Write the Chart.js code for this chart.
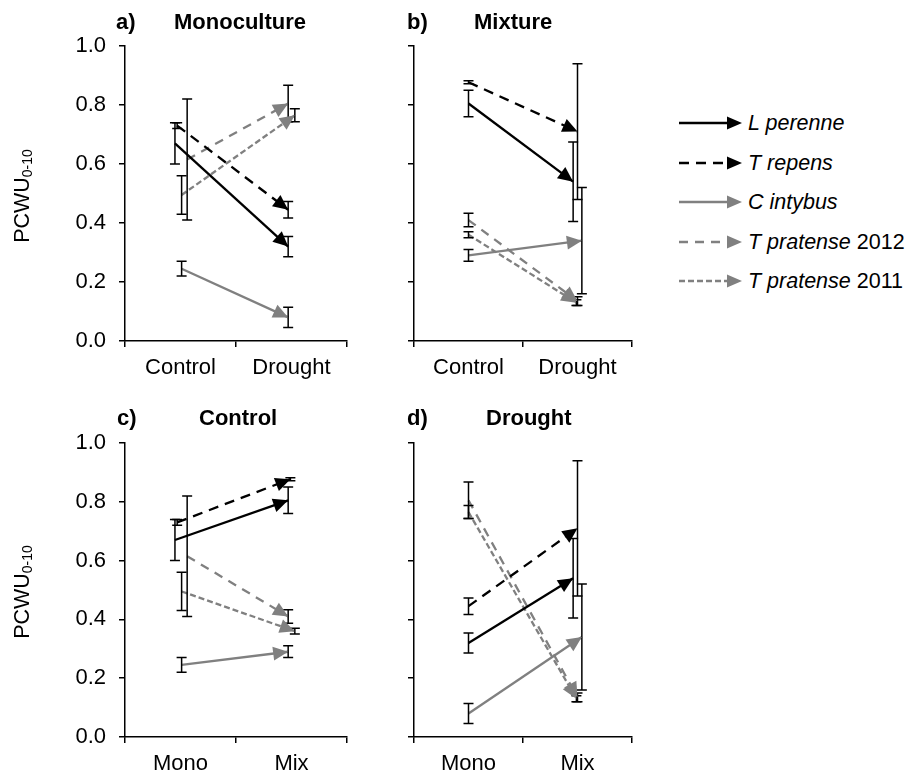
<!DOCTYPE html>
<html><head><meta charset="utf-8">
<script src="https://cdn.jsdelivr.net/npm/chart.js@4.4.0/dist/chart.umd.min.js"></script>
<style>
body{margin:0;background:#fff;width:912px;height:772px;position:relative;overflow:hidden;font-family:'Liberation Sans',Arial,sans-serif;color:#000;}
canvas{position:absolute;}
.t{position:absolute;font-size:22px;font-weight:bold;line-height:22px;white-space:nowrap;}
.yl{position:absolute;width:200px;height:24px;text-align:center;font-size:21.5px;line-height:24px;transform:rotate(-90deg);white-space:nowrap;}
.yl sub{font-size:14px;vertical-align:baseline;position:relative;top:3px}
.lg{position:absolute;left:748px;font-size:21.5px;line-height:24px;white-space:nowrap}
.lg i{font-style:italic}
</style></head><body>
<canvas id="ca" width="380" height="392" style="left:0;top:0"></canvas>
<canvas id="cb" width="280" height="392" style="left:380px;top:0"></canvas>
<canvas id="cc" width="380" height="375" style="left:0;top:397px"></canvas>
<canvas id="cd" width="280" height="375" style="left:380px;top:397px"></canvas>
<div class="t" style="left:116px;top:11px">a)</div>
<div class="t" style="left:174px;top:11px">Monoculture</div>
<div class="t" style="left:407px;top:11px">b)</div>
<div class="t" style="left:474px;top:11px">Mixture</div>
<div class="t" style="left:117px;top:407px">c)</div>
<div class="t" style="left:199px;top:407px">Control</div>
<div class="t" style="left:407px;top:407px">d)</div>
<div class="t" style="left:486px;top:407px">Drought</div>
<div class="yl" style="left:-78px;top:184px">PCWU<sub>0-10</sub></div>
<div class="yl" style="left:-78px;top:580px">PCWU<sub>0-10</sub></div>
<svg id="legsvg" style="position:absolute;left:670px;top:100px" width="80" height="200"></svg>
<div id="legtext"></div>
<script>
// ---- data ----
const seriesNames = ['L perenne','T repens','C intybus','T pratense','T pratense'];
const seriesYears = ['','','','2012','2011'];
const treatmentLabels = ['Control','Drought'];
const systemLabels = ['Mono','Mix'];
const yTickValues = [0,0.2,0.4,0.6,0.8,1.0];

const monoControl    = [0.67, 0.73, 0.245, 0.615, 0.495];
const monoControlErr = [0.07, 0.01, 0.025, 0.205, 0.065];
const monoDrought    = [0.32, 0.445, 0.08, 0.805, 0.765];
const monoDroughtErr = [0.034, 0.028, 0.034, 0.062, 0.022];
const mixControl     = [0.805, 0.877, 0.29, 0.41, 0.36];
const mixControlErr  = [0.045, 0.005, 0.02, 0.023, 0.01];
const mixDrought     = [0.54, 0.71, 0.34, 0.135, 0.13];
const mixDroughtErr  = [0.135, 0.23, 0.18, 0.015, 0.01];

// small horizontal dodge of each series around the category centre
const dodgeA0 = [-0.05,-0.03,0.01,0.06,0.01], dodgeA1 = [-0.03,-0.03,-0.03,-0.03,0.03];
const dodgeB0 = [0,0,0,0,0],                 dodgeB1 = [-0.04,0,0.04,0,-0.01];
const dodgeC0 = [-0.05,-0.03,0.01,0.06,0.01], dodgeC1 = [-0.03,-0.01,-0.03,-0.03,0.03];
const dodgeD0 = [0,0,0,0,0],                 dodgeD1 = [-0.04,0,0.04,0,-0.01];

// ---- styles ----
const seriesColors = ['#000000','#000000','#808080','#808080','#808080'];
const seriesDash = [[],[10,7],[],[9,7],[6,3]];
const FONT = {family:"'Liberation Sans', Arial, sans-serif", size:22};

const arrowErr = {
  id:'arrowErr',
  afterDatasetsDraw(chart){
    const ctx = chart.ctx, ys = chart.scales.y;
    chart.data.datasets.forEach((ds,i)=>{
      const pts = chart.getDatasetMeta(i).data;
      ctx.save(); ctx.strokeStyle='#000'; ctx.lineWidth=1.5; ctx.setLineDash([]);
      pts.forEach((pt,j)=>{
        const e = ds.errors[j]; if(!e) return;
        const v = ds.data[j].y;
        const yt = ys.getPixelForValue(v+e), yb = ys.getPixelForValue(v-e);
        ctx.beginPath();
        ctx.moveTo(pt.x,yt); ctx.lineTo(pt.x,yb);
        ctx.moveTo(pt.x-5,yt); ctx.lineTo(pt.x+5,yt);
        ctx.moveTo(pt.x-5,yb); ctx.lineTo(pt.x+5,yb);
        ctx.stroke();
      });
      ctx.restore();
    });
    chart.data.datasets.forEach((ds,i)=>{
      const pts = chart.getDatasetMeta(i).data;
      const p0 = pts[0], p1 = pts[1];
      const a = Math.atan2(p1.y-p0.y, p1.x-p0.x);
      const L = 15, W = 7;
      ctx.save(); ctx.fillStyle = ds.borderColor;
      ctx.translate(p1.x,p1.y); ctx.rotate(a);
      ctx.beginPath(); ctx.moveTo(0,0); ctx.lineTo(-L,-W); ctx.lineTo(-L,W); ctx.closePath(); ctx.fill();
      ctx.restore();
    });
  }
};

function makePanel(id, labels, v0, e0, v1, e1, d0, d1, showY, leftPx, rightPad, bottomPx){
  const datasets = seriesNames.map((n,i)=>({
    label: n + (seriesYears[i] ? ' ' + seriesYears[i] : ''),
    data: [{x: 0 + d0[i], y: v0[i]}, {x: 1 + d1[i], y: v1[i]}],
    errors: [e0[i], e1[i]],
    xAxisID: 'xl', yAxisID: 'y',
    borderColor: seriesColors[i], backgroundColor: seriesColors[i],
    borderWidth: 2.3, borderDash: seriesDash[i], borderCapStyle:'butt',
    pointRadius: 0, tension: 0
  }));
  new Chart(document.getElementById(id), {
    type:'line',
    data:{labels: labels, datasets: datasets},
    options:{
      responsive:false, animation:false, devicePixelRatio:1,
      layout:{padding:{top:46, right:rightPad, left:0, bottom:0}},
      plugins:{legend:{display:false}, tooltip:{enabled:false}},
      scales:{
        x:{type:'category', offset:true,
           grid:{offset:true, drawOnChartArea:false, drawTicks:true, tickLength:6, color:'#000', lineWidth:1.5},
           border:{display:true, color:'#000', width:1.5},
           ticks:{font:FONT, color:'#000', padding:8, maxRotation:0},
           afterFit(s){ s.height = bottomPx; }},
        xl:{type:'linear', display:false, min:-0.5, max:1.5},
        y:{type:'linear', min:0, max:1,
           afterBuildTicks(s){ s.ticks = yTickValues.map(v=>({value:v})); },
           grid:{drawOnChartArea:false, drawTicks:true, tickLength:6, color:'#000', lineWidth:1.5},
           border:{display:true, color:'#000', width:1.5},
           ticks:{font:FONT, color:'#000', padding:13,
                  callback:(v)=> showY ? Number(v).toFixed(1) : ''},
           afterFit(s){ s.width = leftPx; }}
      }
    },
    plugins:[arrowErr]
  });
}

makePanel('ca', treatmentLabels, monoControl, monoControlErr, monoDrought, monoDroughtErr, dodgeA0, dodgeA1, true, 125, 33, 51);
makePanel('cb', treatmentLabels, mixControl, mixControlErr, mixDrought, mixDroughtErr, dodgeB0, dodgeB1, false, 34, 28, 51);
makePanel('cc', systemLabels, monoControl, monoControlErr, mixControl, mixControlErr, dodgeC0, dodgeC1, true, 125, 33, 35);
makePanel('cd', systemLabels, monoDrought, monoDroughtErr, mixDrought, mixDroughtErr, dodgeD0, dodgeD1, false, 34, 28, 35);

// ---- legend ----
(function(){
  const svg = document.getElementById('legsvg');
  const rowY = [23,63,102,142,181];
  const tx = document.getElementById('legtext');
  let html = '';
  seriesNames.forEach((n,i)=>{
    const y = rowY[i];
    const col = seriesColors[i];
    const dash = seriesDash[i].length ? ` stroke-dasharray="${seriesDash[i].join(' ')}"` : '';
    svg.innerHTML += `<line x1="9" y1="${y}" x2="62" y2="${y}" stroke="${col}" stroke-width="2.5"${dash}/>` +
      `<polygon points="72,${y} 57,${y-6.5} 57,${y+6.5}" fill="${col}"/>`;
    html += `<div class="lg" style="top:${100+y-12}px"><i>${n}</i>${seriesYears[i] ? ' ' + seriesYears[i] : ''}</div>`;
  });
  tx.innerHTML = html;
})();
</script>
</body></html>
